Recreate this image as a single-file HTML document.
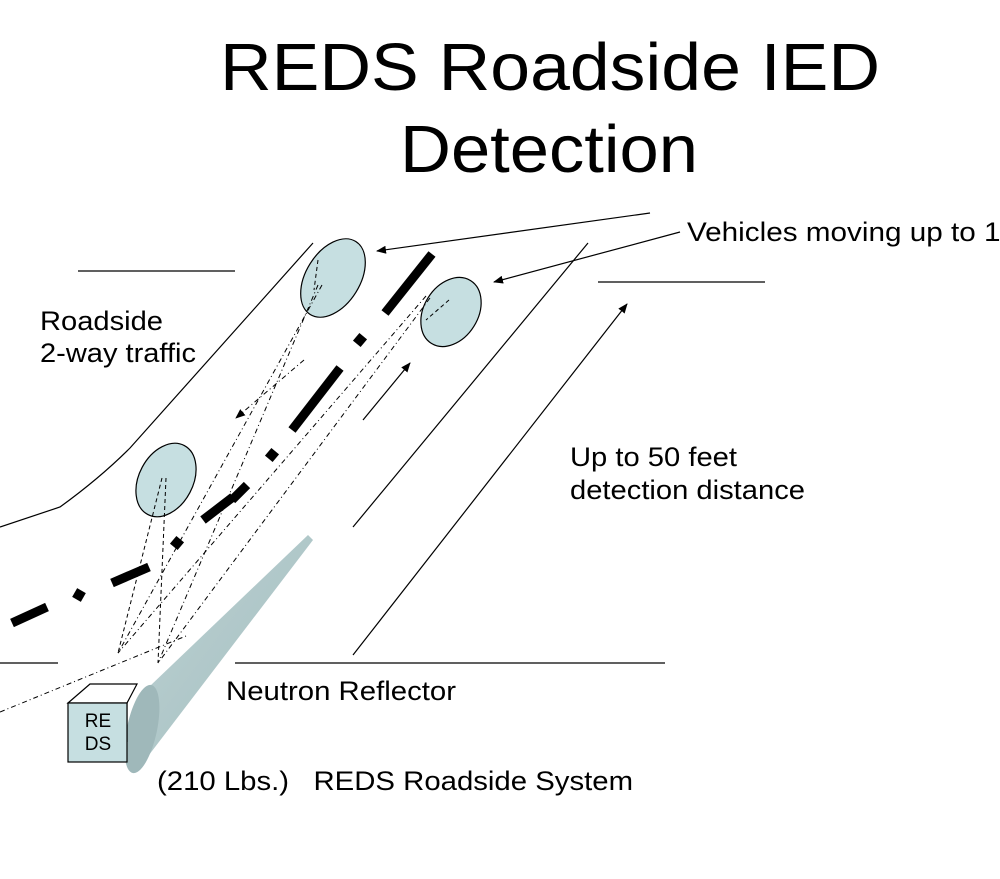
<!DOCTYPE html>
<html><head><meta charset="utf-8"><style>
html,body{margin:0;padding:0;background:#fff;overflow:hidden;}
svg{display:block;font-family:"Liberation Sans",Arial,sans-serif;}
</style></head><body>
<svg width="1000" height="879" viewBox="0 0 1000 879" xmlns="http://www.w3.org/2000/svg">
<defs>
<marker id="ah" markerWidth="10" markerHeight="8" refX="9" refY="4" orient="auto" markerUnits="userSpaceOnUse" viewBox="0 0 10 8">
<path d="M0,0 L10,4 L0,8 z" fill="#000"/></marker>
<linearGradient id="cone" x1="0" y1="0" x2="1" y2="1">
<stop offset="0" stop-color="#bdd2d3"/><stop offset="1" stop-color="#a3bdbf"/></linearGradient>
</defs>
<text x="220" y="90" font-size="67" textLength="660" lengthAdjust="spacingAndGlyphs">REDS Roadside IED</text>
<text x="400" y="172" font-size="67" textLength="298" lengthAdjust="spacingAndGlyphs">Detection</text>

<g stroke="#000" stroke-width="1.2" fill="none">
<line x1="78" y1="271" x2="235" y2="271"/>
<path d="M313,243 L130,448 Q100,478 60,507 L0,527"/>
<line x1="353" y1="527" x2="588" y2="243"/>
<line x1="598" y1="282" x2="765" y2="282"/>
<line x1="0" y1="663" x2="58" y2="663"/>
<line x1="235" y1="663" x2="665" y2="663"/>
<line x1="650" y1="213" x2="377" y2="251" marker-end="url(#ah)"/>
<line x1="680" y1="232" x2="494" y2="282" marker-end="url(#ah)"/>
<line x1="353" y1="655" x2="627" y2="304" marker-end="url(#ah)"/>
<line x1="363" y1="420" x2="410" y2="363" marker-end="url(#ah)"/>
</g>

<g fill="#c6dfe1" stroke="#000" stroke-width="1.2">
<ellipse cx="333" cy="278" rx="27" ry="43" transform="rotate(32 333 278)"/>
<ellipse cx="451" cy="312" rx="27" ry="37" transform="rotate(32 451 312)"/>
<ellipse cx="166" cy="480" rx="27" ry="39" transform="rotate(28 166 480)"/>
</g>

<g stroke="#000" stroke-width="9" stroke-linecap="butt">
<line x1="432" y1="254" x2="385" y2="313"/>
<line x1="340" y1="368" x2="292" y2="430"/>
<line x1="247" y1="485" x2="232" y2="500"/>
<line x1="233" y1="497" x2="203" y2="520"/>
<line x1="149" y1="567" x2="112" y2="583"/>
<line x1="47" y1="607" x2="12" y2="623"/>
</g>
<g fill="#000">
<rect x="355" y="335" width="10" height="10" transform="rotate(40 360 340)"/>
<rect x="267" y="450" width="10" height="10" transform="rotate(40 272 455)"/>
<rect x="172" y="538" width="10" height="10" transform="rotate(40 177 543)"/>
<rect x="74" y="590" width="10" height="10" transform="rotate(30 79 595)"/>
</g>

<g stroke="#000" stroke-width="1" fill="none" stroke-dasharray="5 3 1 3">
<line x1="322" y1="285" x2="118" y2="653"/>
<line x1="318" y1="285" x2="158" y2="663"/>
<line x1="426" y1="296" x2="118" y2="653"/>
<line x1="430" y1="298" x2="158" y2="663"/>
<line x1="0" y1="712" x2="186" y2="636"/>
<line x1="304" y1="360" x2="236" y2="418" marker-end="url(#ah)"/>
</g>
<g stroke="#000" stroke-width="1" fill="none" stroke-dasharray="4 3">
<line x1="162" y1="478" x2="118" y2="653"/>
<line x1="166" y1="478" x2="158" y2="663"/>
<line x1="318" y1="260" x2="314" y2="290"/>
<line x1="449" y1="300" x2="426" y2="320"/>
</g>

<polygon points="150,686 308,535 313,540 136,772" fill="url(#cone)"/>
<ellipse cx="142" cy="729" rx="15" ry="45" transform="rotate(12 142 729)" fill="#9fb8ba"/>

<g stroke="#000" stroke-width="1.2">
<polygon points="68,703 90,684 137,684 127,703" fill="#fff"/>
<line x1="127" y1="703" x2="127" y2="742"/>
<rect x="68" y="703" width="59" height="59" fill="#c6dfe1"/>
</g>
<text x="98" y="727" font-size="19" text-anchor="middle">RE</text>
<text x="98" y="750" font-size="19" text-anchor="middle">DS</text>

<g font-size="27" fill="#000">
<text x="40" y="330" textLength="123" lengthAdjust="spacingAndGlyphs">Roadside</text>
<text x="40" y="362" textLength="156" lengthAdjust="spacingAndGlyphs">2-way traffic</text>
<text x="687" y="241" textLength="330" lengthAdjust="spacingAndGlyphs">Vehicles moving up to 10</text>
<text x="570" y="466" textLength="167" lengthAdjust="spacingAndGlyphs">Up to 50 feet</text>
<text x="570" y="499" textLength="235" lengthAdjust="spacingAndGlyphs">detection distance</text>
<text x="226" y="700" textLength="230" lengthAdjust="spacingAndGlyphs">Neutron Reflector</text>
<text x="157" y="790" xml:space="preserve" textLength="476" lengthAdjust="spacingAndGlyphs">(210 Lbs.)   REDS Roadside System</text>
</g>
</svg>
</body></html>
